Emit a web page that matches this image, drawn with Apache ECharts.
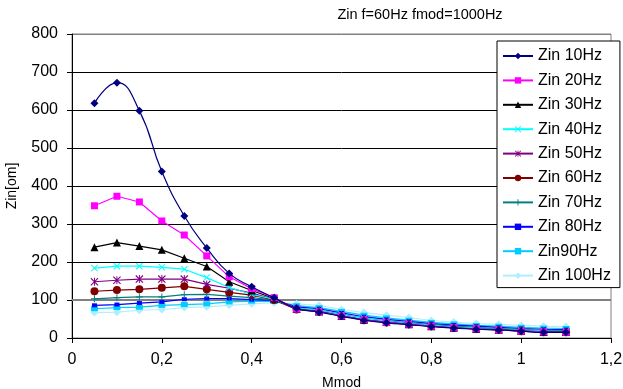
<!DOCTYPE html>
<html>
<head>
<meta charset="utf-8">
<script src="https://cdn.jsdelivr.net/npm/echarts@6/dist/echarts.min.js"></script>
<style>
html,body{margin:0;padding:0;background:#fff;}
#chart{width:623px;height:389px;}
</style>
</head>
<body>
<div id="chart"></div>
<script>
const mmod = [0.05,0.1,0.15,0.2,0.25,0.3,0.35,0.4,0.45,0.5,0.55,0.6,0.65,0.7,0.75,0.8,0.85,0.9,0.95,1.0,1.05,1.1];
const seriesNames = ['Zin 10Hz','Zin 20Hz','Zin 30Hz','Zin 40Hz','Zin 50Hz','Zin 60Hz','Zin 70Hz','Zin 80Hz','Zin90Hz','Zin 100Hz'];
const zin10  = [618,672,598,438,321,237,170,135,106,78,68,57,47,40,35,30,26,23,21,18,15,15];
const zin20  = [348,373,358,308,271,216,161,130,106,76,69,58,48,41,36,31,27,24,21,18,16,15];
const zin30  = [239,251,242,232,210,188,148,125,104,76,70,58,48,42,36,31,27,24,22,19,16,16];
const zin40  = [184,189,189,186,181,159,133,115,102,78,72,61,51,44,38,33,29,26,23,20,18,17];
const zin50  = [148,152,155,155,155,141,131,118,102,76,70,59,49,42,37,32,28,25,22,19,16,16];
const zin60  = [123,126,128,132,136,128,120,113,100,75,70,58,47,41,36,31,27,24,22,18,15,15];
const zin70  = [103,106,108,108,114,115,110,106,100,79,73,62,52,45,40,35,31,28,25,22,20,19];
const zin80  = [86,88,92,95,102,104,104,101,99,82,77,66,56,49,44,38,34,31,28,25,23,22];
const zin90  = [77,80,81,86,88,90,95,97,96,85,80,70,60,53,47,41,37,33,31,28,26,25];
const zin100 = [67,68,73,75,80,82,86,90,93,90,86,75,67,60,54,46,42,38,36,33,31,30];
const allValues = [zin10,zin20,zin30,zin40,zin50,zin60,zin70,zin80,zin90,zin100];

const colors = ['#000080','#FF00FF','#000000','#00FFFF','#800080','#800000','#008080','#0000FF','#00CCFF','#AEEFFF'];
const X_PATH = 'path://M1,0 L5,4 L9,0 L10,1 L6,5 L10,9 L9,10 L5,6 L1,10 L0,9 L4,5 L0,1 Z';
const STAR_PATH = 'path://M1,0 L5,4 L9,0 L10,1 L6,5 L10,9 L9,10 L5,6 L1,10 L0,9 L4,5 L0,1 Z M4.4,0 L5.6,0 L5.6,10 L4.4,10 Z';
const PLUS_PATH = 'path://M4.3,0 L5.7,0 L5.7,4.3 L10,4.3 L10,5.7 L5.7,5.7 L5.7,10 L4.3,10 L4.3,5.7 L0,5.7 L0,4.3 L4.3,4.3 Z';
const symbols = ['diamond','rect','triangle',X_PATH,STAR_PATH,'circle',PLUS_PATH,'rect','rect','diamond'];
const symbolSizes = [8,7,8,7,8,8,7,[5,4],[7,5],8];
const smoothFlags = [true,false,false,false,false,false,false,false,false,false];

const FONT = 'Liberation Sans, Arial, sans-serif';

const series = seriesNames.map((name,i)=>{
  const s = {
    name: name,
    type: 'line',
    data: mmod.map((x,j)=>[x, allValues[i][j]]),
    smooth: smoothFlags[i],
    symbol: symbols[i],
    symbolSize: symbolSizes[i],
    showAllSymbol: true,
    lineStyle: {color: colors[i], width: 1.2},
    itemStyle: {color: colors[i], borderWidth: 0},
    emphasis: {disabled: true},
    animation: false,
    z: 10 - i
  };
  if (i === 0) {
    s.markLine = {
      silent: true, symbol: 'none', animation: false,
      label: {show: false},
      lineStyle: {color: '#808080', width: 2, type: 'solid'},
      data: [{yAxis: 100}],
      z: 1
    };
  }
  return s;
});

const chart = echarts.init(document.getElementById('chart'), null, {renderer: 'canvas'});
chart.setOption({
  backgroundColor: '#ffffff',
  animation: false,
  color: colors,
  textStyle: {fontFamily: FONT},
  title: {
    text: 'Zin f=60Hz fmod=1000Hz',
    left: 415, top: 2, textAlign: 'center',
    textStyle: {fontFamily: FONT, fontSize: 14.5, fontWeight: 'normal', color: '#000'}
  },
  legend: {
    orient: 'vertical',
    left: 497, top: 41,
    padding: [7, 9, 4, 5],
    itemGap: 8.4,
    itemWidth: 30, itemHeight: 8,
    borderColor: '#000', borderWidth: 1,
    backgroundColor: '#fff',
    textStyle: {fontFamily: FONT, fontSize: 16, color: '#000', lineHeight: 16},
    data: seriesNames
  },
  grid: {
    left: 72, right: 12, top: 34, bottom: 51,
    containLabel: false, outerBoundsMode: 'none',
    show: true, borderColor: '#808080', borderWidth: 1, backgroundColor: 'transparent'
  },
  xAxis: {
    type: 'value', min: 0, max: 1.2, interval: 0.2,
    name: 'Mmod', nameLocation: 'middle', nameGap: 38,
    nameTextStyle: {fontFamily: FONT, fontSize: 14, color: '#000'},
    axisLine: {show: true, onZero: false, lineStyle: {color: '#000', width: 1}},
    axisTick: {show: true, inside: false, length: 5, lineStyle: {color: '#000'}},
    axisLabel: {fontFamily: FONT, fontSize: 16, color: '#000', margin: 14,
      formatter: v => String(Math.round(v*10)/10).replace('.', ',')},
    splitLine: {show: false}
  },
  yAxis: {
    type: 'value', min: 0, max: 800, interval: 100,
    name: 'Zin[om]', nameLocation: 'middle', nameGap: 53, nameRotate: 90,
    nameTextStyle: {fontFamily: FONT, fontSize: 14, color: '#000'},
    axisLine: {show: true, lineStyle: {color: '#000', width: 1}},
    axisTick: {show: true, inside: false, length: 5, lineStyle: {color: '#000'}},
    axisLabel: {fontFamily: FONT, fontSize: 16, color: '#000', margin: 14},
    splitLine: {show: true, lineStyle: {color: ['#000','#808080','#000','#000','#000','#000','#000','#000','#808080'], width: 1}}
  },
  series: series
});
</script>
</body>
</html>
